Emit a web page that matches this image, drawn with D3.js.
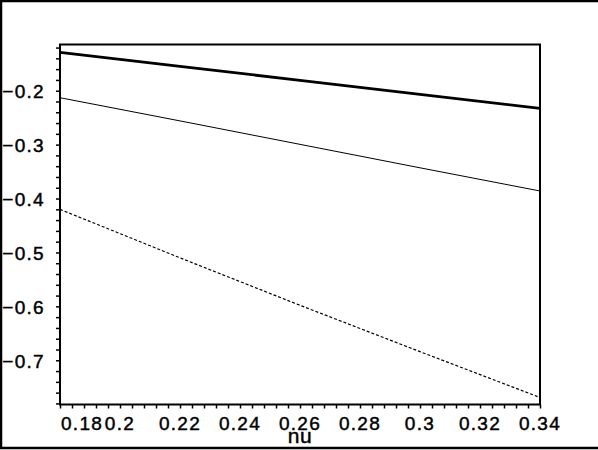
<!DOCTYPE html>
<html>
<head>
<meta charset="utf-8">
<script src="https://cdn.jsdelivr.net/npm/d3@7"></script>
<style>
    html, body { margin: 0; padding: 0; background: #fff; }
    svg text {
        font-family: "Liberation Sans", Arial, sans-serif;
        fill: #000;
        stroke: #000;
        stroke-width: 0.45px;
        letter-spacing: 1.3px;
    }
</style>
</head>
<body>
<svg id="plot"></svg>
<script>
(function(){
    "use strict";

    // values
    const nu = [0.18, 0.22, 0.26, 0.30, 0.34];
    const curveA = [-0.1288, -0.1548, -0.1808, -0.2067, -0.2327];
    const curveB = [-0.213, -0.256, -0.2995, -0.343, -0.386];
    const curveC = [-0.420, -0.510, -0.598, -0.684, -0.769];

    const xMajor = [0.18, 0.2, 0.22, 0.24, 0.26, 0.28, 0.3, 0.32, 0.34];
    const yMajor = [-0.2, -0.3, -0.4, -0.5, -0.6, -0.7];
    const xDomain = [0.18, 0.34];
    const yDomain = [-0.782, -0.1143];

    const width = 598,
        height = 450,
        left = 60, right = 540, top = 44.5, bottom = 404.5;

    let svg = d3.select("svg#plot")
        .attr("width", width)
        .attr("height", height);

    // outer frame (no right side)
    svg.append("path")
        .attr("d", `M${width},1 H1 V${height - 2} H${width}`)
        .attr("fill", "none")
        .attr("stroke", "#000")
        .attr("stroke-width", 2.5);

    let x = d3.scaleLinear().domain(xDomain).range([left, right]);
    let y = d3.scaleLinear().domain(yDomain).range([bottom, top]);

    // minor ticks every 0.004 / 0.02
    const xMinor = d3.range(0, 41).map(i => 0.18 + i * 0.004);
    const yMinor = d3.range(0, 34).map(i => -0.78 + i * 0.02);

    let xAxis = d3.axisBottom(x)
        .tickValues(xMinor)
        .tickSize(4)
        .tickFormat("");
    let yAxis = d3.axisLeft(y)
        .tickValues(yMinor)
        .tickSize(4)
        .tickFormat("");

    let gx = svg.append("g")
        .attr("transform", `translate(0,${bottom})`)
        .call(xAxis);
    let gy = svg.append("g")
        .attr("transform", `translate(${left},0)`)
        .call(yAxis);

    [gx, gy].forEach(g => {
        g.select(".domain").remove();
        g.selectAll(".tick line").attr("stroke", "#000").attr("stroke-width", 1.5);
    });

    // box around the plot
    svg.append("rect")
        .attr("x", left).attr("y", top)
        .attr("width", right - left).attr("height", bottom - top)
        .attr("fill", "none")
        .attr("stroke", "#000")
        .attr("stroke-width", 2);

    // tick labels
    svg.selectAll("text.xlab")
        .data(xMajor)
        .enter().append("text")
        .attr("class", "xlab")
        .attr("x", (d, i) => i === 0 ? x(d) + 1 : x(d))
        .attr("y", bottom + 25.5)
        .attr("text-anchor", (d, i) => i === 0 ? "start" : "middle")
        .style("font-size", "19px")
        .text(d => String(+d.toFixed(2)));

    svg.selectAll("text.ylab")
        .data(yMajor)
        .enter().append("text")
        .attr("class", "ylab")
        .attr("x", 45)
        .attr("y", d => y(d) + 7.5)
        .attr("text-anchor", "end")
        .style("font-size", "19px")
        .text(d => "\u2212" + String(+Math.abs(d).toFixed(1)));

    svg.append("text")
        .attr("x", 300)
        .attr("y", 443)
        .attr("text-anchor", "middle")
        .style("font-size", "21px")
        .style("letter-spacing", "0.5px")
        .text("nu");

    // curves
    const series = [
        { vals: curveA, w: 2.8, dash: null },
        { vals: curveB, w: 1, dash: null },
        { vals: curveC, w: 1.2, dash: "3,2" }
    ];

    let line = d3.line()
        .x((d, i) => x(nu[i]))
        .y(d => y(d));

    svg.selectAll("path.curve")
        .data(series)
        .enter().append("path")
        .attr("class", "curve")
        .attr("fill", "none")
        .attr("stroke", "#000")
        .attr("stroke-width", d => d.w)
        .attr("stroke-dasharray", d => d.dash)
        .attr("d", d => line(d.vals));
})();
</script>
</body>
</html>
